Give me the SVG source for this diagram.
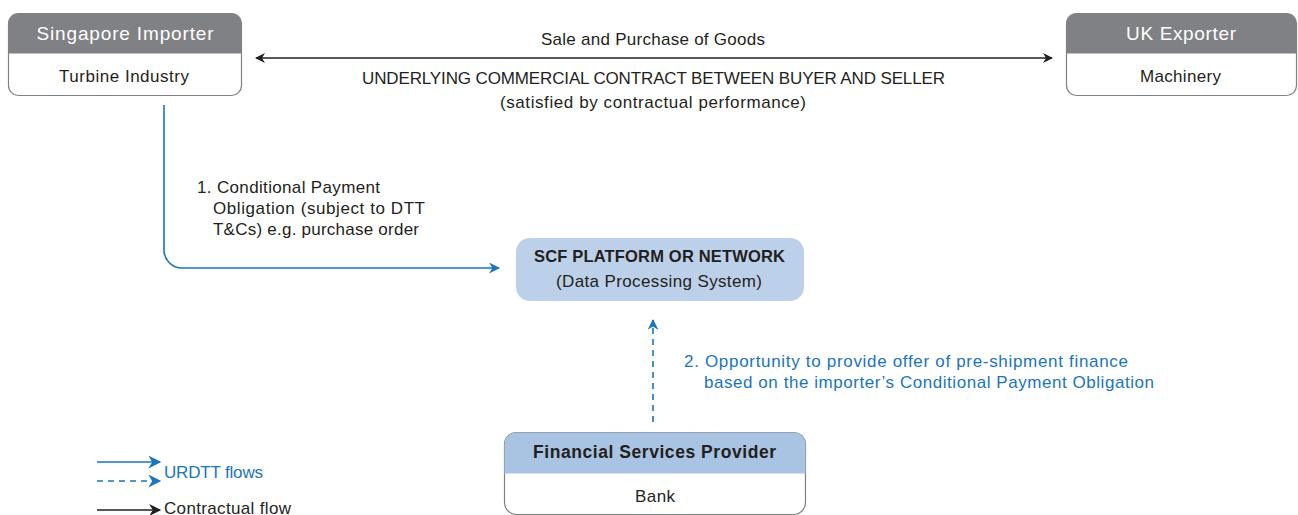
<svg xmlns="http://www.w3.org/2000/svg" width="1298" height="515" viewBox="0 0 1298 515">
<defs>
<style>
text{font-family:"Liberation Sans","Noto Sans",sans-serif;font-size:17px;fill:#231f20}
.hdr{fill:#fff;font-size:19px}
.c{text-anchor:middle}
.blue{fill:#1a75bb}
.b{font-weight:bold}
.box{fill:#fff;stroke:#808184;stroke-width:1.2}
.grey{fill:#808184}
.bl{stroke:#1a75bb;stroke-width:1.6;fill:none}
.bk{stroke:#231f20;stroke-width:1.6;fill:none}
.dash{stroke-dasharray:6,5}
</style>
<marker id="ab" viewBox="0 0 10 10" refX="9" refY="5" markerWidth="15" markerHeight="11" markerUnits="userSpaceOnUse" orient="auto-start-reverse"><path d="M0,0 L10,5 L0,10 L3,5 Z" fill="#1a75bb"/></marker>
<marker id="ak" viewBox="0 0 10 10" refX="9" refY="5" markerWidth="14" markerHeight="10" markerUnits="userSpaceOnUse" orient="auto-start-reverse"><path d="M0,0 L10,5 L0,10 L3,5 Z" fill="#231f20"/></marker>
<marker id="ab2" viewBox="0 0 10 10" refX="9" refY="5" markerWidth="17" markerHeight="13" markerUnits="userSpaceOnUse" orient="auto"><path d="M0,0 L10,5 L0,10 L3,5 Z" fill="#1a75bb"/></marker>
<marker id="ak2" viewBox="0 0 10 10" refX="9" refY="5" markerWidth="17" markerHeight="12" markerUnits="userSpaceOnUse" orient="auto"><path d="M0,0 L10,5 L0,10 L3,5 Z" fill="#231f20"/></marker>
</defs>

<g id="singapore-importer">
<rect class="box" x="8.5" y="13.5" width="233" height="82" rx="10"/>
<path class="grey" d="M8.5,53.5 V23.5 A10,10 0 0 1 18.5,13.5 H231.5 A10,10 0 0 1 241.5,23.5 V53.5 Z"/>
<text class="hdr c" x="125" y="39.5" textLength="177">Singapore Importer</text>
<text class="c" x="124" y="82" textLength="130">Turbine Industry</text>
</g>

<g id="uk-exporter">
<rect class="box" x="1066.5" y="13.5" width="230" height="82" rx="10"/>
<path class="grey" d="M1066.5,53.5 V23.5 A10,10 0 0 1 1076.5,13.5 H1286.5 A10,10 0 0 1 1296.5,23.5 V53.5 Z"/>
<text class="hdr c" x="1181" y="39.5" textLength="110">UK Exporter</text>
<text class="c" x="1180.5" y="82" textLength="81">Machinery</text>
</g>

<g id="scf-platform">
<rect x="516" y="238" width="288" height="63" rx="14" fill="#bdd0e9"/>
<text class="c" x="659.5" y="262" textLength="251" style="font-weight:bold;font-size:16.5px">SCF PLATFORM OR NETWORK</text>
<text class="c" x="659" y="287" textLength="206">(Data Processing System)</text>
</g>

<g id="financial-services-provider">
<rect class="box" x="504.5" y="432.5" width="301" height="82" rx="12"/>
<path d="M504.5,473.5 V444.5 A12,12 0 0 1 516.5,432.5 H793.5 A12,12 0 0 1 805.5,444.5 V473.5 Z" fill="#a9c3e3"/>
<text class="c b" x="654.5" y="458" textLength="243" style="font-size:17.5px">Financial Services Provider</text>
<text class="c" x="655" y="502" textLength="40">Bank</text>
</g>

<g id="connectors">
<line class="bk" x1="256" y1="58" x2="1052" y2="58" marker-start="url(#ak)" marker-end="url(#ak)"/>
<path class="bl" d="M164,105 V250 A18,18 0 0 0 182,268 H499" marker-end="url(#ab)"/>
<line class="bl dash" x1="653" y1="422" x2="653" y2="320" marker-end="url(#ab)"/>
</g>

<g id="labels">
<text class="c" x="653" y="45" textLength="224">Sale and Purchase of Goods</text>
<text class="c" x="653.5" y="84" textLength="583">UNDERLYING COMMERCIAL CONTRACT BETWEEN BUYER AND SELLER</text>
<text class="c" x="653" y="108" textLength="306">(satisfied by contractual performance)</text>
<text x="197" y="193" textLength="183">1. Conditional Payment</text>
<text x="213" y="214" textLength="212">Obligation (subject to DTT</text>
<text x="213" y="235" textLength="206">T&amp;Cs) e.g. purchase order</text>
<text class="blue" x="684" y="367" textLength="444">2. Opportunity to provide offer of pre-shipment finance</text>
<text class="blue" x="704" y="388" textLength="450">based on the importer’s Conditional Payment Obligation</text>
</g>

<g id="legend">
<line class="bl" x1="97" y1="462" x2="160" y2="462" marker-end="url(#ab2)"/>
<line class="bl dash" x1="97" y1="481" x2="160" y2="481" marker-end="url(#ab2)"/>
<text class="blue" x="164" y="478" textLength="99">URDTT flows</text>
<line class="bk" x1="97" y1="510" x2="160" y2="510" marker-end="url(#ak2)"/>
<text x="164" y="514" textLength="127">Contractual flow</text>
</g>
</svg>
